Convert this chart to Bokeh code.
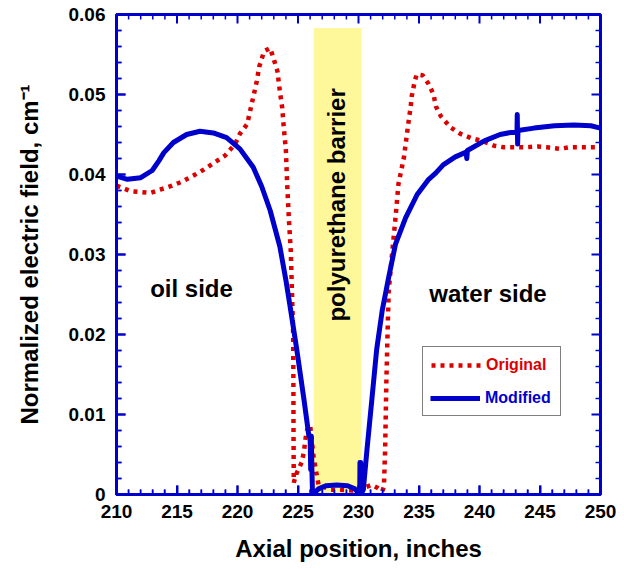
import math
from bokeh.plotting import figure
from bokeh.models import Range1d, FixedTicker, Legend, LegendItem, Label, BoxAnnotation
from bokeh.embed import file_html
from bokeh.resources import INLINE

# ---------------- data ----------------
orig_x = [210.0, 211.2, 212.8, 213.6, 214.6, 215.4, 216.4, 217.2, 218.2, 219.0,
          219.8, 220.2, 220.8, 221.2, 221.6, 221.8, 222.2, 222.7, 223.0, 223.3,
          223.5, 223.7, 223.8, 224.0, 224.1, 224.24, 224.4, 224.5, 224.6, 224.62,
          224.63, 224.65, 224.9, 225.3, 225.5, 225.6, 225.76, 226.0, 226.3, 226.7,
          227.7, 228.5, 229.5, 230.4, 231.1, 231.6, 231.96, 232.1, 232.2, 232.3,
          232.4, 232.5, 232.8, 233.06, 233.3, 233.75, 234.0, 234.2, 234.3, 234.4,
          234.6, 234.8, 235.3, 235.8, 236.2, 236.4, 236.8, 237.6, 238.4, 239.4,
          240.2, 241.2, 242.0, 243.0, 243.8, 244.8, 245.6, 246.6, 247.4, 248.3,
          249.2, 249.6]
orig_y = [0.0386, 0.0379, 0.0377, 0.0381, 0.0386, 0.0391, 0.0399, 0.0406, 0.0416, 0.0424,
          0.0438, 0.0451, 0.0463, 0.0490, 0.0517, 0.0535, 0.0554, 0.0558, 0.0544, 0.0529,
          0.0504, 0.0483, 0.0463, 0.0430, 0.0390, 0.0346, 0.0305, 0.0255, 0.0201, 0.0139,
          0.0077, 0.0015, 0.0027, 0.0040, 0.0054, 0.0068, 0.0081, 0.0087, 0.0045, 0.0012,
          0.0006, 0.0006, 0.0005, 0.0008, 0.0012, 0.0008, 0.0004, 0.0010, 0.0056, 0.0139,
          0.0201, 0.0255, 0.0305, 0.0346, 0.0388, 0.0421, 0.0450, 0.0473, 0.0483, 0.0498,
          0.0513, 0.0525, 0.0524, 0.0513, 0.0500, 0.0485, 0.0473, 0.0459, 0.0451, 0.0445,
          0.0442, 0.0436, 0.0434, 0.0434, 0.0434, 0.0435, 0.0434, 0.0432, 0.0434, 0.0434,
          0.0434, 0.0434]

mod_x = [210.0, 210.9, 212.0, 212.95, 213.5, 213.9, 214.7, 215.8, 216.9, 218.0,
         219.1, 220.2, 221.3, 222.0, 222.7, 223.5, 224.0, 224.4, 224.9, 225.5,
         225.9, 226.0, 226.05, 226.1, 226.15, 226.2, 226.7, 227.3, 228.2, 229.1,
         229.7, 230.1, 230.12, 230.18, 230.2, 230.4, 230.7, 231.1, 231.5, 231.96,
         232.5, 233.06, 233.9, 234.85, 235.8, 236.4, 237.0, 238.0, 238.9, 238.95,
         239.0, 240.4, 241.7, 243.1, 243.12, 243.15, 243.18, 244.5, 246.2, 247.8,
         249.2, 250.0]
mod_y = [0.0398, 0.0394, 0.0396, 0.0405, 0.0417, 0.0427, 0.0440, 0.0450, 0.0454, 0.0452,
         0.0446, 0.0432, 0.0409, 0.0385, 0.0355, 0.0310, 0.0268, 0.0230, 0.0181, 0.0118,
         0.0073, 0.0073, 0.0031, 0.0073, 0.0031, 0.0000, 0.0007, 0.0011, 0.0012, 0.0011,
         0.0007, 0.0000, 0.0040, 0.0040, 0.0000, 0.0006, 0.0056, 0.0118, 0.0181, 0.0230,
         0.0272, 0.0313, 0.0346, 0.0375, 0.0394, 0.0402, 0.0412, 0.0422, 0.0428, 0.0420,
         0.0430, 0.0442, 0.0450, 0.0454, 0.0475, 0.0438, 0.0455, 0.0458, 0.0461, 0.0462,
         0.0461, 0.0458]

barrier_left, barrier_right, barrier_top = [226.3], [230.25], [0.0583]

x_ticks = [210, 215, 220, 225, 230, 235, 240, 245, 250]
y_ticks = [0.0, 0.01, 0.02, 0.03, 0.04, 0.05, 0.06]
y_tick_labels = ["0", "0.01", "0.02", "0.03", "0.04", "0.05", "0.06"]

series_names = ["Original", "Modified"]

# ---------------- styles / layout ----------------
FONT = "Liberation Sans"
BLUE = "#0000CC"
RED = "#DD0000"
W, H = 624, 569
BL, BR, BT, BB = 116, 24, 14, 75
FRAME_W, FRAME_H = W - BL - BR, H - BT - BB

X0, X1 = float(x_ticks[0]), float(x_ticks[-1])
Y0, Y1 = float(y_ticks[0]), float(y_ticks[-1])

p = figure(width=W, height=H, output_backend="svg", toolbar_location=None,
           x_range=Range1d(X0, X1), y_range=Range1d(Y0, Y1),
           min_border_left=BL, min_border_right=BR, min_border_top=BT, min_border_bottom=BB)
p.xgrid.visible = False
p.ygrid.visible = False
p.outline_line_color = BLUE
p.outline_line_width = 3
p.outline_line_alpha = 1
p.background_fill_color = "white"

x_major_f = [float(v) for v in x_ticks]
x_minor_f = [X0 + i for i in range(int(X1 - X0) + 1) if (X0 + i) not in x_major_f]
y_major_f = [float(v) for v in y_ticks]
y_minor_f = [round(i * 0.002, 4) for i in range(31) if i % 5 != 0]

xa = p.xaxis[0]
ya = p.yaxis[0]
xa.ticker = FixedTicker(ticks=x_ticks, minor_ticks=x_minor_f)
ya.ticker = FixedTicker(ticks=y_ticks, minor_ticks=y_minor_f)
for ax in (xa, ya):
    ax.axis_line_color = BLUE
    ax.axis_line_width = 3
    ax.major_tick_line_color = BLUE
    ax.minor_tick_line_color = BLUE
    ax.major_tick_line_width = 2
    ax.minor_tick_line_width = 1.5
    ax.major_tick_in = 9
    ax.major_tick_out = 0
    ax.minor_tick_in = 5
    ax.minor_tick_out = 0
    ax.major_label_text_font = FONT
    ax.major_label_text_font_style = "bold"
    ax.major_label_text_color = "black"
    ax.major_label_text_font_size = "19px"
    ax.axis_label_text_font = FONT
    ax.axis_label_text_font_style = "bold"
    ax.axis_label_text_font_size = "24px"
    ax.axis_label_text_color = "black"
ya.major_label_overrides = {t: l for t, l in zip(y_ticks, y_tick_labels)}
xa.major_label_standoff = 10
ya.major_label_standoff = 11
xa.axis_label = "Axial position, inches"
ya.axis_label = "Normalized electric field, cm\u207b\u00b9"
xa.axis_label_standoff = 14
ya.axis_label_standoff = 23

# barrier band
p.quad(left=barrier_left, right=barrier_right, bottom=[Y0], top=barrier_top,
       fill_color="#FFF89A", line_color=None)

r_orig = p.line(orig_x, orig_y, line_color=RED, line_width=4.5, line_dash="4 5")
r_mod = p.line(mod_x, mod_y, line_color=BLUE, line_width=5, line_join="round")

# inward ticks on all four frame sides, as small box annotations in data units
dx_px = (X1 - X0) / FRAME_W
dy_px = (Y1 - Y0) / FRAME_H

def vticks(xs, length_px, width_px):
    hw = 0.5 * width_px * dx_px
    L = length_px * dy_px
    for xv in xs:
        p.add_layout(BoxAnnotation(left=xv - hw, right=xv + hw, bottom=Y0, top=Y0 + L,
                                   fill_color=BLUE, fill_alpha=1, line_color=None))
        p.add_layout(BoxAnnotation(left=xv - hw, right=xv + hw, bottom=Y1 - L, top=Y1,
                                   fill_color=BLUE, fill_alpha=1, line_color=None))

def hticks(ys, length_px, width_px):
    hh = 0.5 * width_px * dy_px
    L = length_px * dx_px
    for yv in ys:
        p.add_layout(BoxAnnotation(left=X0, right=X0 + L, bottom=yv - hh, top=yv + hh,
                                   fill_color=BLUE, fill_alpha=1, line_color=None))
        p.add_layout(BoxAnnotation(left=X1 - L, right=X1, bottom=yv - hh, top=yv + hh,
                                   fill_color=BLUE, fill_alpha=1, line_color=None))

vticks(x_major_f, 9, 2)
vticks(x_minor_f, 5, 1.5)
hticks(y_major_f, 9, 2)
hticks(y_minor_f, 5, 1.5)

# text annotations
txt = dict(text_font=FONT, text_font_style="bold", text_font_size="24px",
           text_color="black", text_align="center", text_baseline="middle")
p.add_layout(Label(x=216.2, y=0.0257, text="oil side", **txt))
p.add_layout(Label(x=240.7, y=0.0251, text="water side", **txt))
p.add_layout(Label(x=228.2, y=0.0362, text="polyurethane barrier", angle=math.pi / 2, **txt))

leg_common = dict(glyph_width=50, glyph_height=20, label_height=20, label_standoff=5,
                  label_text_font=FONT, label_text_font_style="bold", label_text_font_size="16px",
                  margin=0)
legend_a = Legend(items=[LegendItem(label=series_names[0], renderers=[r_orig]),
                         LegendItem(label=series_names[1], renderers=[r_mod])],
                  location=(306, 78), padding=8, spacing=12,
                  border_line_color="black", border_line_width=1,
                  background_fill_color="white", background_fill_alpha=1,
                  label_text_color=RED, **leg_common)
legend_b = Legend(items=[LegendItem(label=series_names[1], renderers=[r_mod])],
                  location=(314, 86), padding=0, spacing=0,
                  border_line_color=None,
                  background_fill_color="white", background_fill_alpha=1,
                  label_text_color=BLUE, **leg_common)
p.add_layout(legend_a)
p.add_layout(legend_b)

open("out.html", "w").write(file_html(p, INLINE))
